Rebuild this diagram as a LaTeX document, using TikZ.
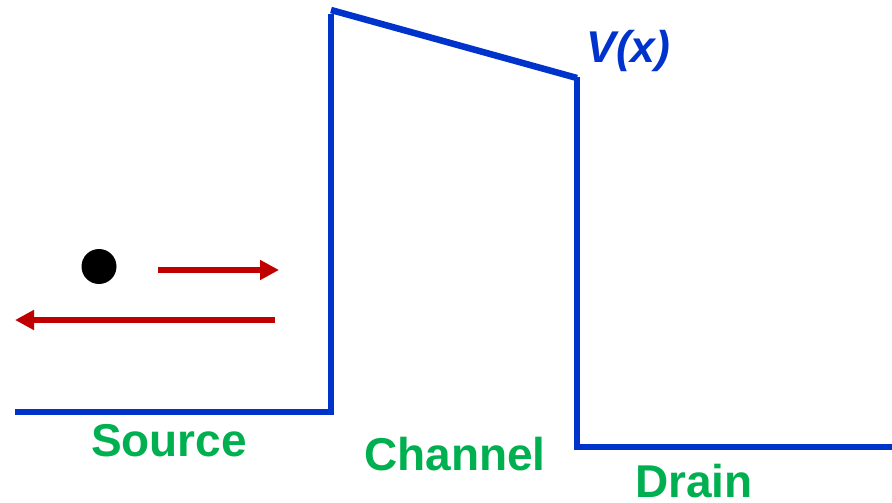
\documentclass[tikz,border=0pt]{standalone}
\usepackage{fontspec}
\setmainfont{Liberation Sans}
\usetikzlibrary{arrows.meta}
\definecolor{bandblue}{RGB}{0,51,204}
\definecolor{labgreen}{RGB}{0,176,80}
\definecolor{arrred}{RGB}{192,0,0}
\tikzset{
  band/.style={draw=bandblue, line width=6.5pt},
  lab/.style={text=labgreen, font=\bfseries\fontsize{46}{54}\selectfont, anchor=base, inner sep=0pt},
  flow/.style={draw=arrred, line width=6.5pt, -{Triangle[length=19pt,width=19pt]}},
}
\begin{document}
\begin{tikzpicture}[x=1pt,y=-1pt]
\useasboundingbox (0,0) rectangle (892,503);
% band profile
\coordinate (s0) at (15,412);
\coordinate (s1) at (334,412);
\coordinate (b0) at (331,412);
\coordinate (b1) at (331,14);
\coordinate (t0) at (331,10);
\coordinate (t1) at (577,78);
\coordinate (d0) at (577,77);
\coordinate (d1) at (577,447);
\coordinate (f0) at (574,447);
\coordinate (f1) at (892,447);
\draw[band] (s0) -- (s1);
\draw[band] (b0) -- (b1);
\draw[band] (t0) -- (t1);
\draw[band] (d0) -- (d1);
\draw[band] (f0) -- (f1);
% electron
\fill[black] (99,266.5) circle (17.5);
% arrows
\coordinate (a1s) at (158,270);
\coordinate (a1e) at (279,270);
\coordinate (a2s) at (275,320);
\coordinate (a2e) at (15,320);
\draw[flow] (a1s) -- (a1e);
\draw[flow] (a2s) -- (a2e);
% labels
\node[lab] (src) at (169,456) {Source};
\node[lab] (ch) at (455,470) {Channel};
\node[lab] (dr) at (694,497) {Drain};
\node[text=bandblue, font=\bfseries\itshape\fontsize{44.5}{53}\selectfont, anchor=base, inner sep=0pt] (vx) at (628.5,63) {V(x)};
\end{tikzpicture}
\end{document}
